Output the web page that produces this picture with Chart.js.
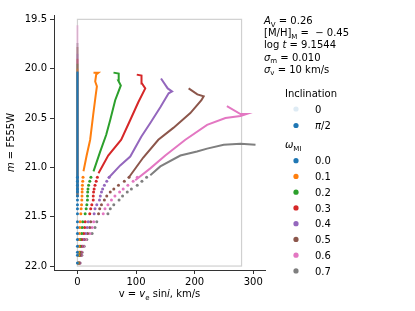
<!DOCTYPE html>
<html>
<head>
<meta charset="utf-8">
<script src="https://cdn.jsdelivr.net/npm/chart.js@4.4.1/dist/chart.umd.min.js"></script>
<style>
  html, body { margin: 0; padding: 0; background: #fff; }
  #c { display: block; }
</style>
</head>
<body>
<canvas id="c" width="415" height="311"></canvas>
<script>
// omega_MI values shown in the legend
const omegas = ['0.0', '0.1', '0.2', '0.3', '0.4', '0.5', '0.6', '0.7'];
const xTicks = [0, 100, 200, 300];
const yTicks = [19.5, 20.0, 20.5, 21.0, 21.5, 22.0];

// continuous part of each track (v in km/s, m in mag), faint end first
const trackV0 = [0, 0];
const trackM0 = [21.25, 20.03];
const trackV1 = [10.3, 15.7, 21.7, 26.8, 31.1, 33.2, 30.3, 32.0, 35.9, 27.4];
const trackM1 = [21.04, 20.88, 20.72, 20.47, 20.27, 20.18, 20.13, 20.06, 20.04, 20.04];
const trackV2 = [27.4, 38.8, 49.1, 55.9, 64.4, 74.0, 69.6, 70.4, 61.5];
const trackM2 = [21.04, 20.84, 20.67, 20.52, 20.32, 20.17, 20.12, 20.05, 20.04];
const trackV3 = [35.9, 52.5, 74.7, 90.1, 103.8, 115.7, 110.1, 109.3, 101.2];
const trackM3 = [21.06, 20.88, 20.72, 20.52, 20.34, 20.2, 20.15, 20.07, 20.06];
const trackV4 = [52.5, 73.0, 90.1, 108.9, 124.3, 141.4, 155.6, 161.4, 154.0, 142.6];
const trackM4 = [21.11, 20.98, 20.89, 20.69, 20.55, 20.39, 20.25, 20.23, 20.2, 20.1];
const trackV5 = [86.7, 112.3, 138.0, 163.6, 192.6, 211.5, 215.4, 204.6, 189.7];
const trackM5 = [21.11, 20.9, 20.72, 20.6, 20.45, 20.32, 20.28, 20.26, 20.2];
const trackV6 = [98.6, 124.3, 149.9, 184.1, 221.2, 252.5, 278.1, 288.4, 278.1, 255.0];
const trackM6 = [21.13, 21.01, 20.88, 20.72, 20.57, 20.5, 20.48, 20.46, 20.46, 20.38];
const trackV7 = [124.3, 141.4, 175.6, 204.0, 221.2, 249.6, 278.1, 303.8];
const trackM7 = [21.08, 20.99, 20.88, 20.84, 20.81, 20.77, 20.76, 20.77];

// faint, sparse part: one dot per mass step
const dotRowsM = [21.10, 21.14, 21.18, 21.22, 21.25, 21.29, 21.33, 21.38, 21.42, 21.47,
  21.55, 21.61, 21.67, 21.73, 21.80, 21.86, 21.89, 21.97];
const dotV0 = [0, 0, 0, 0, 0, 0, 0, 0, 0, 0, 0, 0, 0, 0, 0, 0, 0, 0];
const dotV1 = [9.5, 9, 8.5, 8.2, 8, 7.8, 7.5, 7, 6.3, 5.8, 4.6, 3.8, 3.4, 2.6, 2.1, 1.7, 1.5, 0.9];
const dotV2 = [23, 21, 19, 18, 17.5, 17.2, 17, 16, 14.9, 13.2, 8.9, 8, 7.2, 4.6, 3.8, 2.9, 2.6, 1.5];
const dotV3 = [34, 32, 30, 28.5, 27.5, 27, 27, 24.5, 22.6, 21, 13.2, 12.3, 10.6, 7.2, 5.5, 4.1, 3.6, 2.2];
const dotV4 = [54, 50, 46, 43, 41, 39, 37.6, 33, 30, 28.5, 18.3, 16.6, 14, 9.7, 7.2, 5.1, 4.6, 2.9];
const dotV5 = [88, 80, 70, 62, 56, 50, 46, 41, 38, 36, 22.6, 21, 17.4, 11.5, 8.5, 6.3, 5.5, 3.6];
const dotV6 = [102, 95, 86, 78, 72, 64, 58, 52, 47, 44, 27.7, 25, 21, 14, 10, 7.2, 6.3, 4.1];
const dotV7 = [118, 110, 102, 92, 85, 77, 71, 62, 56, 52, 33, 30, 25, 16, 11.5, 8, 7.5, 4.6];

// pole-on (inclination 0) stars all sit at v = 0; brightest magnitude reached
const poleTopM = [20.03, 20.0, 19.95, 19.9, 19.85, 19.78, 19.56, 19.74];
const poleBottomM = 21.3;

// box of the observed range
const boxV = [0, 280];
const boxM = [19.5, 22.0];

const colors = ['#1f77b4', '#ff7f0e', '#2ca02c', '#d62728', '#9467bd', '#8c564b', '#e377c2', '#7f7f7f'];
const lightColors = ['rgba(31,119,180,0.3)', 'rgba(255,127,14,0.3)', 'rgba(44,160,44,0.3)', 'rgba(214,39,40,0.3)',
  'rgba(148,103,189,0.3)', 'rgba(140,86,75,0.35)', 'rgba(227,119,194,0.35)', 'rgba(127,127,127,0.45)'];

const trackV = [trackV0, trackV1, trackV2, trackV3, trackV4, trackV5, trackV6, trackV7];
const trackM = [trackM0, trackM1, trackM2, trackM3, trackM4, trackM5, trackM6, trackM7];
const dotV = [dotV0, dotV1, dotV2, dotV3, dotV4, dotV5, dotV6, dotV7];

const FONT = '"DejaVu Sans", sans-serif';

const datasets = [];
omegas.forEach((w, k) => {
  datasets.push({
    label: 'pole ' + w,
    data: [{ x: 0, y: poleBottomM }, { x: 0, y: poleTopM[k] }],
    showLine: true, borderColor: lightColors[k], borderWidth: 2.2, pointRadius: 0, order: 10
  });
});
omegas.forEach((w, k) => {
  datasets.push({
    label: 'track ' + w,
    data: trackV[k].map((v, i) => ({ x: v, y: trackM[k][i] })),
    showLine: true, borderColor: colors[k], borderWidth: 2, pointRadius: 0, order: 1
  });
  datasets.push({
    label: 'dots ' + w,
    data: dotV[k].map((v, i) => ({ x: v, y: dotRowsM[i] })),
    showLine: false, backgroundColor: colors[k], borderWidth: 0, pointRadius: 1.5, order: 1
  });
});

function drawRich(ctx, x, y, parts, size, align) {
  const fontOf = p => (p.i ? 'italic ' : '') + (p.sub ? size * 0.7 : size) + 'px ' + FONT;
  let total = 0;
  parts.forEach(p => { ctx.font = fontOf(p); total += ctx.measureText(p.t).width; });
  if (align === 'center') x -= total / 2;
  ctx.textAlign = 'left';
  ctx.textBaseline = 'alphabetic';
  parts.forEach(p => {
    ctx.font = fontOf(p);
    ctx.fillText(p.t, x, y + (p.sub ? size * 0.25 : 0));
    x += ctx.measureText(p.t).width;
  });
}

const decorPlugin = {
  id: 'decor',
  beforeDatasetsDraw(chart) {
    const { ctx, scales: { x, y } } = chart;
    const x0 = x.getPixelForValue(boxV[0]), x1 = x.getPixelForValue(boxV[1]);
    const y0 = y.getPixelForValue(boxM[0]), y1 = y.getPixelForValue(boxM[1]);
    ctx.save();
    ctx.strokeStyle = '#d0d0d0';
    ctx.lineWidth = 1.2;
    ctx.strokeRect(x0, y0, x1 - x0, y1 - y0);
    ctx.restore();
  },
  afterDraw(chart) {
    const { ctx, chartArea } = chart;
    ctx.save();
    ctx.fillStyle = '#000';

    // axis titles
    drawRich(ctx, (chartArea.left + chartArea.right) / 2, 297,
      [{ t: 'v = ' }, { t: 'v', i: true }, { t: 'e', sub: true }, { t: ' sin' }, { t: 'i', i: true }, { t: ', km/s' }], 10, 'center');
    ctx.save();
    ctx.translate(14, (chartArea.top + chartArea.bottom) / 2);
    ctx.rotate(-Math.PI / 2);
    drawRich(ctx, 0, 0, [{ t: 'm', i: true }, { t: ' = F555W' }], 10, 'center');
    ctx.restore();

    // parameter block
    const tx = 264;
    drawRich(ctx, tx, 24, [{ t: 'A', i: true }, { t: 'V', sub: true }, { t: ' = 0.26' }], 10);
    drawRich(ctx, tx, 36, [{ t: '[M/H]' }, { t: 'M', sub: true }, { t: ' =  − 0.45' }], 10);
    drawRich(ctx, tx, 48, [{ t: 'log ' }, { t: 't', i: true }, { t: ' = 9.1544' }], 10);
    drawRich(ctx, tx, 60.5, [{ t: 'σ', i: true }, { t: 'm', sub: true }, { t: ' = 0.010' }], 10);
    drawRich(ctx, tx, 72.5, [{ t: 'σ', i: true }, { t: 'v', sub: true }, { t: ' = 10 km/s' }], 10);

    // legend
    const mx = 296, lx = 315;
    const marker = (yy, c) => {
      ctx.beginPath();
      ctx.arc(mx, yy, 2.6, 0, Math.PI * 2);
      ctx.fillStyle = c;
      ctx.fill();
      ctx.fillStyle = '#000';
    };
    drawRich(ctx, 285, 97, [{ t: 'Inclination' }], 10);
    marker(109, 'rgba(31,119,180,0.15)');
    drawRich(ctx, lx, 112.5, [{ t: '0' }], 10);
    marker(125.5, '#1f77b4');
    drawRich(ctx, lx, 129, [{ t: 'π', i: true }, { t: '/2' }], 10);
    drawRich(ctx, 285, 148, [{ t: 'ω', i: true }, { t: 'MI', sub: true }], 10);
    omegas.forEach((w, k) => {
      const yy = 160.7 + k * 15.75;
      marker(yy, colors[k]);
      drawRich(ctx, lx, yy + 3.6, [{ t: w }], 10);
    });
    ctx.restore();
  }
};

new Chart(document.getElementById('c').getContext('2d'), {
  type: 'scatter',
  data: { datasets },
  options: {
    responsive: false,
    devicePixelRatio: 1,
    animation: false,
    events: [],
    layout: { padding: { top: 15, right: 150, left: 0, bottom: 0 } },
    plugins: { legend: { display: false }, tooltip: { enabled: false } },
    scales: {
      x: {
        type: 'linear', min: -40, max: 320,
        afterBuildTicks: s => { s.ticks = xTicks.map(v => ({ value: v })); },
        afterFit: s => { s.height = 41; },
        grid: { display: true, drawOnChartArea: false, drawTicks: true, tickLength: 4, color: '#333' },
        border: { display: true, color: '#333', width: 1 },
        ticks: { color: '#000', padding: 2, maxRotation: 0, font: { size: 10, family: FONT } }
      },
      y: {
        type: 'linear', reverse: true, min: 19.456, max: 22.04,
        afterBuildTicks: s => { s.ticks = yTicks.map(v => ({ value: v })); },
        afterFit: s => { s.width = 54; },
        grid: { display: true, drawOnChartArea: false, drawTicks: true, tickLength: 4, color: '#333' },
        border: { display: true, color: '#333', width: 1 },
        ticks: { color: '#000', padding: 3, font: { size: 10, family: FONT }, callback: v => v.toFixed(1) }
      }
    }
  },
  plugins: [decorPlugin]
});
</script>
</body>
</html>
